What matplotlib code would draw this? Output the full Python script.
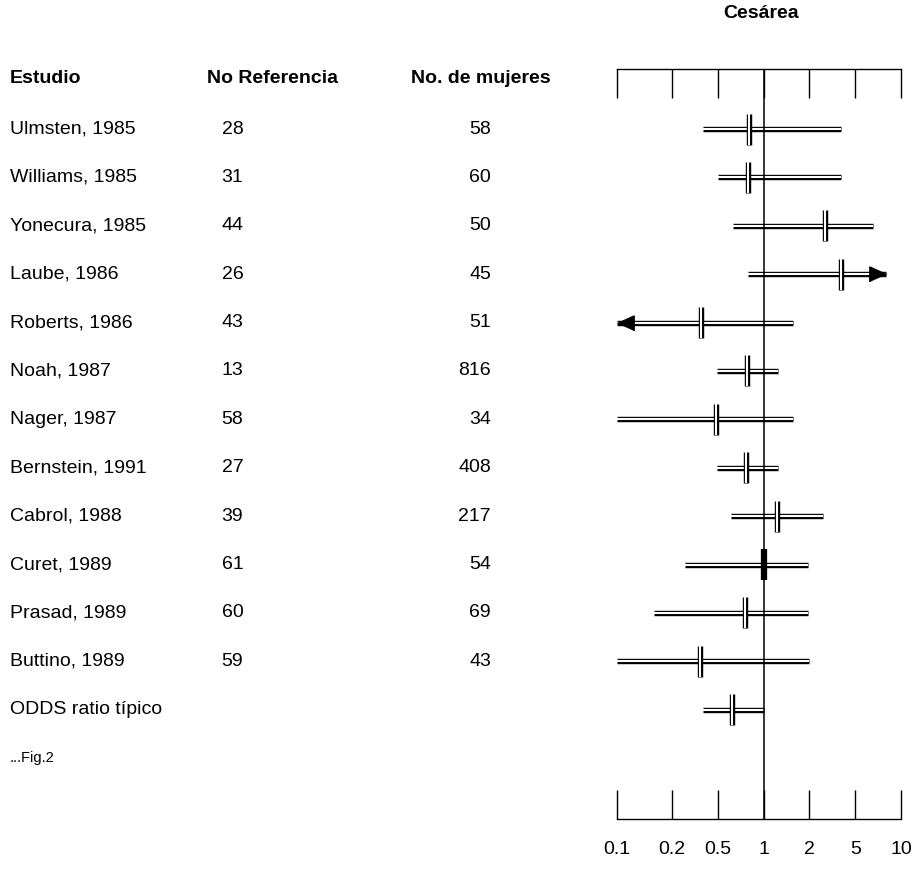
import numpy as np
import matplotlib
matplotlib.use("Agg")
import matplotlib.pyplot as plt
from matplotlib.transforms import blended_transform_factory

plt.rcParams['font.family'] = ['Liberation Sans', 'DejaVu Sans']

# Datos
estudios = ['Ulmsten, 1985', 'Williams, 1985', 'Yonecura, 1985', 'Laube, 1986',
            'Roberts, 1986', 'Noah, 1987', 'Nager, 1987', 'Bernstein, 1991',
            'Cabrol, 1988', 'Curet, 1989', 'Prasad, 1989', 'Buttino, 1989',
            'ODDS ratio típico']
no_referencia = ['28', '31', '44', '26', '43', '13', '58', '27', '39', '61', '60', '59', '']
no_mujeres = ['58', '60', '50', '45', '51', '816', '34', '408', '217', '54', '69', '43', '']
odds = [0.80, 0.79, 2.75, 3.8, 0.36, 0.78, 0.48, 0.77, 1.23, 1.0, 0.75, 0.35, 0.62]
ic_inf = [0.37, 0.50, 0.63, 0.79, 0.10, 0.49, 0.10, 0.49, 0.61, 0.26, 0.16, 0.10, 0.37]
ic_sup = [3.8, 3.8, 6.5, 8.0, 1.57, 1.24, 1.57, 1.24, 2.6, 1.95, 1.95, 2.0, 1.0]
flecha = ['', '', '', 'der', 'izq', '', '', '', '', '', '', '', '']

ticks_or = [0.1, 0.2, 0.5, 1, 2, 5, 10]
ticks_lab = ['0.1', '0.2', '0.5', '1', '2', '5', '10']
ticks_pos = [-0.2, 1, 2, 3, 4, 5, 6]   # escala dibujada a mano (no es log exacto)


def fwd(x):
    return np.interp(np.log10(np.clip(x, 1e-3, None)), np.log10(ticks_or), ticks_pos)


def inv(p):
    return 10 ** np.interp(p, ticks_pos, np.log10(ticks_or))


fig = plt.figure(figsize=(9.16, 8.86), dpi=100)
ax = fig.add_axes([0.6734, 0.0756, 0.3103, 0.8465])
ax.set_xscale('function', functions=(fwd, inv))
ax.set_xlim(0.1, 10)
ax.set_ylim(14.26, -1.24)

filas = np.arange(len(estudios))
lw_ext, lw_int = 3.9, 1.5

for i in filas:
    y = filas[i]
    # linea doble del intervalo
    ax.hlines(y, ic_inf[i], ic_sup[i], color='black', lw=lw_ext, zorder=2)
    ax.hlines(y, ic_inf[i], ic_sup[i], color='white', lw=lw_int, zorder=3)
    # marca del odds ratio
    if estudios[i].startswith('Curet'):
        ax.vlines(odds[i], y - 0.32, y + 0.32, color='black', lw=4.5, zorder=4)
    else:
        ax.vlines(odds[i], y - 0.32, y + 0.32, color='black', lw=3.9, zorder=4)
        ax.vlines(odds[i], y - 0.32, y + 0.32, color='white', lw=1.5, zorder=5)
    if flecha[i] == 'der':
        ax.plot(ic_sup[i], y, marker=[(0, 0), (-1, 0.45), (-1, -0.45)], ms=24,
                color='black', zorder=6)
    elif flecha[i] == 'izq':
        ax.plot(ic_inf[i], y, marker=[(0, 0), (1, 0.45), (1, -0.45)], ms=24,
                color='black', zorder=6)

ax.axvline(1, color='black', lw=1.1, zorder=7)

ax.set_xticks(ticks_or)
ax.set_xticklabels(ticks_lab, fontsize=14)
ax.xaxis.set_minor_locator(matplotlib.ticker.NullLocator())
ax.tick_params(axis='x', top=True, bottom=True, direction='in', length=21,
               width=1.0, pad=16, labeltop=False)
ax.set_yticks([])
for lado in ['left', 'right']:
    ax.spines[lado].set_visible(False)
for lado in ['top', 'bottom']:
    ax.spines[lado].set_linewidth(1.0)
ax.patch.set_alpha(0)

# Columnas de texto
tr = blended_transform_factory(fig.transFigure, ax.transData)
fs = 14
for i in filas:
    ax.text(0.011, i, estudios[i], transform=tr, fontsize=fs, va='center', ha='left')
    ax.text(0.242, i, no_referencia[i], transform=tr, fontsize=fs, va='center', ha='left')
    ax.text(0.536, i, no_mujeres[i], transform=tr, fontsize=fs, va='center', ha='right')

ax.text(0.011, -1.05, 'Estudio', transform=tr, fontsize=fs, fontweight='bold', va='center')
ax.text(0.226, -1.05, 'No Referencia', transform=tr, fontsize=fs, fontweight='bold', va='center')
ax.text(0.449, -1.05, 'No. de mujeres', transform=tr, fontsize=fs, fontweight='bold', va='center')
ax.text(0.011, 13, '...Fig.2', transform=tr, fontsize=10.5, va='center')
fig.text(0.831, 0.985, 'Cesárea', fontsize=fs, fontweight='bold', ha='center', va='center')

fig.savefig('out.png', dpi=100)
